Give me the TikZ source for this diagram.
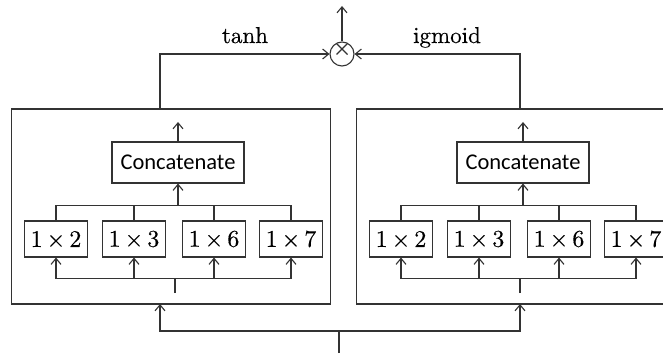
\documentclass[tikz,border=0pt]{standalone}
\usepackage{fontspec}
\newfontfamily\labelfont{Carlito}
\newfontfamily\serifnum{lmroman10-regular.otf}[FakeBold=0.4]
\usetikzlibrary{arrows.meta}

% one convolution branch: outer panel, four 1xk filters, concatenation
\newcommand\branch[2]{%
  \begin{scope}[xshift=#2pt]
    \node[panel] (#1box) at (171,206.5) {};
    \node[catbox] (#1cat) at (178,162.5) {Concatenate};
    \coordinate (#1out) at (178,122);
    \coordinate (#1bus) at (178,206);
    \foreach \k/\x in {2/56,3/134,6/214,7/291}
      \node[kbox] (#1k\k) at (\x,239) {1\,×\,\k};
    % filters gathered into the concatenation
    \draw[wire] (#1k2.north) -- ++(0,-15) -| (#1k7.north);
    \draw[wire] (#1k3.north) -- ++(0,-15);
    \draw[wire] (#1k6.north) -- ++(0,-15);
    \draw[arr] (#1bus) -- (#1cat.south);
    \draw[arr] (#1cat.north) -- (#1out);
    % input spread to the filters
    \coordinate (#1in) at (175,293);
    \coordinate (#1join) at (175,278);
    \draw[wire] (#1in) -- (#1join);
    \draw[wire] ([yshift=-21pt]#1k2.south) -- ([yshift=-21pt]#1k7.south);
    \foreach \k in {2,3,6,7}
      \draw[arr] ([yshift=-21pt]#1k\k.south) -- (#1k\k.south);
  \end{scope}}

\begin{document}
\begin{tikzpicture}[x=1pt,y=-1pt,
  wire/.style={draw=black!80, line width=1.1pt},
  arr/.style={wire, -{Straight Barb[length=6pt,width=10pt]}},
  panel/.style={draw=black!80, line width=1.1pt, rectangle, inner sep=0pt,
    minimum width=319pt, minimum height=195pt},
  catbox/.style={draw=black!80, line width=1.1pt, inner sep=0pt,
    minimum width=132pt, minimum height=41pt,
    font=\labelfont\fontsize{22.5}{26}\selectfont},
  kbox/.style={draw=black!80, line width=1.1pt, inner sep=0pt,
    minimum width=63pt, minimum height=36pt,
    font=\serifnum\fontsize{24}{28}\selectfont},
  act/.style={font=\serifnum\fontsize{23}{26}\selectfont, anchor=base, inner sep=0pt}
]
\useasboundingbox (0,0) rectangle (663,355);
\clip (0,0) rectangle (663,355);

\branch{L}{0}
\branch{R}{345}

% gating product
\node[draw=black!80, line width=1.1pt, circle, minimum size=24pt, inner sep=0pt] (mul) at (342,54) {};
\coordinate (cA) at (336.5,43.5);
\coordinate (cB) at (347.5,54.5);
\coordinate (cC) at (347.5,43.5);
\coordinate (cD) at (336.5,54.5);
\draw[wire] (cA) -- (cB);
\draw[wire] (cC) -- (cD);
\coordinate (top) at (342,6);
\draw[arr] (mul.north) -- (top);

\coordinate (Ltap) at (160,109);
\coordinate (Rtap) at (520,109);
\draw[arr] (Ltap) |- (mul.west);
\draw[arr] (Rtap) |- (mul.east);
\node[act] (tanhlbl) at (245,43) {tanh};
\node[act] (siglbl) at (447,43) {igmoid};

% shared input
\coordinate (src) at (339,353);
\coordinate (split) at (339,331);
\coordinate (Lfeed) at (160,304);
\coordinate (Rfeed) at (520,304);
\draw[wire] (src) -- (split);
\draw[arr] (split) -| (Lfeed);
\draw[arr] (split) -| (Rfeed);
\end{tikzpicture}
\end{document}
